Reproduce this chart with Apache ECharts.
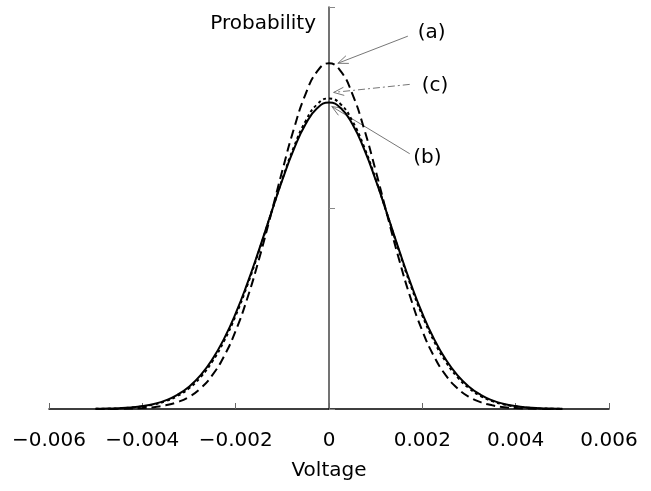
<!DOCTYPE html>
<html>
<head>
<meta charset="utf-8">
<script src="https://cdn.jsdelivr.net/npm/echarts@6/dist/echarts.min.js"></script>
<style>
  html, body { margin: 0; padding: 0; background: #fff; }
  #box { width: 651px; height: 491px; }
</style>
</head>
<body>
<div id="box"></div>
<script>
// voltage samples (V)
var voltage = [-0.005, -0.00475, -0.0045, -0.00425, -0.004, -0.00375, -0.0035, -0.00325, -0.003, -0.00275,
	-0.0025, -0.00225, -0.002, -0.00175, -0.0015, -0.00125, -0.001, -0.00075, -0.0005, -0.00025,
	0, 0.00025, 0.0005, 0.00075, 0.001, 0.00125, 0.0015, 0.00175, 0.002, 0.00225,
	0.0025, 0.00275, 0.003, 0.00325, 0.0035, 0.00375, 0.004, 0.00425, 0.0045, 0.00475, 0.005];

// curve (a) - dashed, narrow
var curveA = [0.03, 0.08, 0.19, 0.42, 0.90, 1.85, 3.63, 6.79, 12.1, 20.7,
	33.7, 52.4, 77.8, 110.2, 149.1, 192.5, 237.2, 279.1, 313.5, 336.1,
	344, 336.1, 313.5, 279.1, 237.2, 192.5, 149.1, 110.2, 77.8, 52.4,
	33.7, 20.7, 12.1, 6.79, 3.63, 1.85, 0.90, 0.42, 0.19, 0.08, 0.03];

// curve (b) - solid
var curveB = [0.21, 0.43, 0.84, 1.58, 2.88, 5.07, 8.6, 14.1, 22.2, 33.7,
	49.4, 69.8, 95.1, 125.0, 158.3, 193.5, 227.9, 258.9, 283.6, 299.5,
	305, 299.5, 283.6, 258.9, 227.9, 193.5, 158.3, 125.0, 95.1, 69.8,
	49.4, 33.7, 22.2, 14.1, 8.6, 5.07, 2.88, 1.58, 0.84, 0.43, 0.21];

// curve (c) - dotted
var curveC = [0.17, 0.35, 0.70, 1.36, 2.52, 4.52, 7.79, 12.9, 20.7, 31.8,
	47.2, 67.5, 92.9, 123.1, 157.2, 193.2, 228.8, 261.0, 286.6, 303.3,
	309, 303.3, 286.6, 261.0, 228.8, 193.2, 157.2, 123.1, 92.9, 67.5,
	47.2, 31.8, 20.7, 12.9, 7.79, 4.52, 2.52, 1.36, 0.70, 0.35, 0.17];

// annotation labels and arrows, in data units [voltage, probability]
var noteNames = ['(a)', '(c)', '(b)'];
var noteText = [[0.0022, 374], [0.00227, 322], [0.00211, 250]];
var noteFrom = [[0.00169, 371], [0.00173, 323], [0.00173, 254]];
var noteTo = [[0.00019, 344], [0.0001, 315], [0.00006, 301]];

var box = document.getElementById('box');
var myChart = echarts.init(box);

function pairs(ys) {
	var out = [];
	for (var i = 0; i < voltage.length; i++) out.push([voltage[i], ys[i]]);
	return out;
}

function fmt(v) {
	if (Math.abs(v) < 1e-9) return '0';
	return (v < 0 ? '\u2212' : '') + Math.abs(v).toFixed(3);
}

var font = 'DejaVu Sans';

var option = {
	animation: false,
	backgroundColor: '#fff',
	grid: { left: 49, right: 42, top: 7, bottom: 82 },
	xAxis: {
		type: 'value',
		min: -0.006,
		max: 0.006,
		interval: 0.002,
		name: 'Voltage',
		nameLocation: 'middle',
		nameGap: 52,
		nameTextStyle: { color: '#000', fontFamily: font, fontSize: 20 },
		axisLine: { onZero: false, lineStyle: { color: '#000', width: 1.5 } },
		axisTick: { inside: true, length: 6, lineStyle: { color: '#666' } },
		axisLabel: { formatter: fmt, color: '#000', fontFamily: font, fontSize: 20, margin: 22 },
		splitLine: { show: false }
	},
	yAxis: {
		type: 'value',
		min: 0,
		max: 400,
		interval: 200,
		name: 'Probability',
		nameLocation: 'end',
		nameGap: -17,
		nameTextStyle: { color: '#000', fontFamily: font, fontSize: 20, align: 'right', verticalAlign: 'middle', padding: [0, 13, 0, 0] },
		axisLine: { onZero: true, lineStyle: { color: '#444', width: 1.5 } },
		axisTick: { inside: true, length: 6, lineStyle: { color: '#888' } },
		axisLabel: { show: false },
		splitLine: { show: false }
	},
	series: [{
		name: 'b', type: 'line', data: pairs(curveB), smooth: true, showSymbol: false,
		lineStyle: { color: '#000', width: 2, type: 'solid' }
	}, {
		name: 'a', type: 'line', data: pairs(curveA), smooth: true, showSymbol: false,
		lineStyle: { color: '#000', width: 2, type: [9, 5] }
	}, {
		name: 'c', type: 'line', data: pairs(curveC), smooth: true, showSymbol: false,
		lineStyle: { color: '#000', width: 2, type: [3, 3] }
	}]
};

myChart.setOption(option);

// arrows with open heads, placed through the chart's own scales
var els = [];
for (var i = 0; i < noteNames.length; i++) {
	var t = myChart.convertToPixel({ gridIndex: 0 }, noteText[i]);
	var p0 = myChart.convertToPixel({ gridIndex: 0 }, noteFrom[i]);
	var p1 = myChart.convertToPixel({ gridIndex: 0 }, noteTo[i]);
	var ang = Math.atan2(p0[1] - p1[1], p0[0] - p1[0]);
	var hl = 11, spread = 0.38;
	var dash = noteNames[i] === '(c)' ? [7, 3, 2, 3] : null;
	els.push({
		type: 'text', x: t[0], y: t[1],
		style: { text: noteNames[i], fill: '#000', font: '20px "DejaVu Sans"', align: 'center', verticalAlign: 'middle' }
	});
	els.push({
		type: 'line', shape: { x1: p0[0], y1: p0[1], x2: p1[0], y2: p1[1] },
		style: { stroke: '#777', lineWidth: 1, lineDash: dash }
	});
	els.push({
		type: 'polyline',
		shape: { points: [
			[p1[0] + hl * Math.cos(ang + spread), p1[1] + hl * Math.sin(ang + spread)],
			[p1[0], p1[1]],
			[p1[0] + hl * Math.cos(ang - spread), p1[1] + hl * Math.sin(ang - spread)]
		] },
		style: { stroke: '#777', lineWidth: 1, fill: null }
	});
}
myChart.setOption({ graphic: els });
</script>
</body>
</html>
